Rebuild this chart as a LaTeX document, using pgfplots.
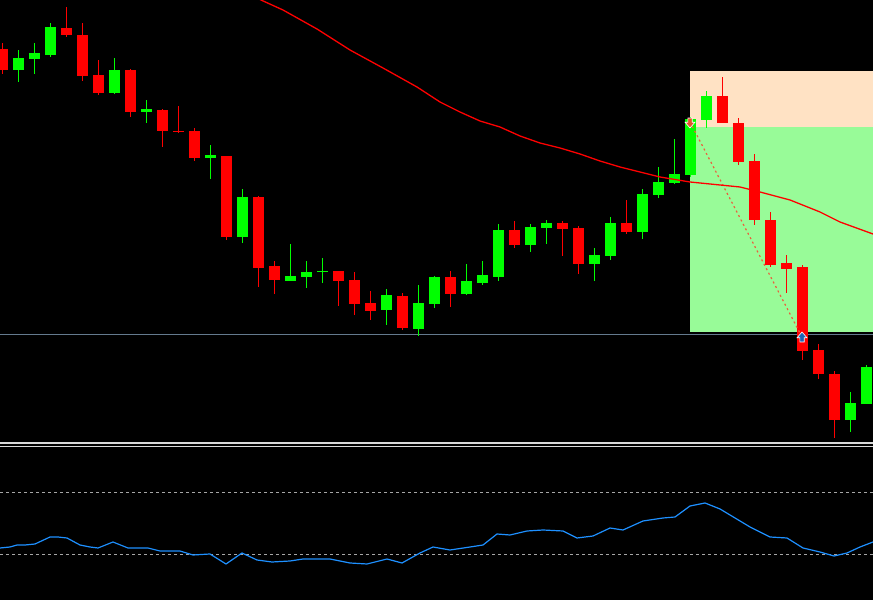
\documentclass[border=0pt]{standalone}
\usepackage{pgfplots}
\usepackage{pgfplotstable}
\pgfplotsset{compat=1.18}
\definecolor{cred}{RGB}{255,0,0}
\definecolor{cgreen}{RGB}{0,255,0}
\definecolor{peach}{RGB}{255,226,196}
\definecolor{pgreen}{RGB}{152,251,152}
\definecolor{slate}{RGB}{100,122,142}
\definecolor{osc}{RGB}{30,144,255}
\definecolor{arrowor}{RGB}{226,84,44}
\definecolor{arrowbl}{RGB}{30,100,180}
\definecolor{dashor}{RGB}{235,95,60}

\pgfdeclareplotmark{arrdown}{%
 \pgfpathmoveto{\pgfqpoint{-2.2pt}{5pt}}%
 \pgfpathlineto{\pgfqpoint{2.2pt}{5pt}}%
 \pgfpathlineto{\pgfqpoint{2.2pt}{0.8pt}}%
 \pgfpathlineto{\pgfqpoint{5pt}{0.8pt}}%
 \pgfpathlineto{\pgfqpoint{0pt}{-5pt}}%
 \pgfpathlineto{\pgfqpoint{-5pt}{0.8pt}}%
 \pgfpathlineto{\pgfqpoint{-2.2pt}{0.8pt}}%
 \pgfpathclose\pgfusepathqfillstroke}
\pgfdeclareplotmark{arrup}{%
 \pgfpathmoveto{\pgfqpoint{-2.2pt}{-5pt}}%
 \pgfpathlineto{\pgfqpoint{2.2pt}{-5pt}}%
 \pgfpathlineto{\pgfqpoint{2.2pt}{-0.8pt}}%
 \pgfpathlineto{\pgfqpoint{5pt}{-0.8pt}}%
 \pgfpathlineto{\pgfqpoint{0pt}{5pt}}%
 \pgfpathlineto{\pgfqpoint{-5pt}{-0.8pt}}%
 \pgfpathlineto{\pgfqpoint{-2.2pt}{-0.8pt}}%
 \pgfpathclose\pgfusepathqfillstroke}

% x = candle centre, bt/bb = body top/bottom, wt/wb = wick top/bottom (chart pixel rows)
\pgfplotstableread{
x bt bb wt wb
2.5 49 70 43 74
66.5 28 35 7 37
82.5 35 76 23 81
98.5 75 93 60 95
130.5 70 112 69 117
162.5 110 131 109 147
178.5 131 132 106 133
194.5 131 158 128 161
226.5 156 237 156 240
258.5 197 268 196 287
274.5 266 280 261 294
338.5 271 281 271 306
354.5 280 304 272 315
370.5 303 311 291 320
402.5 296 328 293 330
450.5 277 294 271 307
514.5 230 245 221 248
562.5 223 229 221 256
578.5 228 264 226 274
626.5 223 232 200 234
722.5 96 123 77 123
738.5 123 162 118 165
754.5 161 220 154 225
770.5 220 265 212 267
786.5 263 269 255 293
802.5 267 351 265 360
818.5 350 374 344 379
834.5 374 420 371 438
}\redc
\pgfplotstableread{
x bt bb wt wb
18.5 58 70 50 82
34.5 53 59 43 74
50.5 27 55 23 57
114.5 70 93 58 94
146.5 109 112 100 123
210.5 155 158 145 179
242.5 197 237 189 243
290.5 276 281 244 281
306.5 272 277 261 288
322.5 271 272 258 283
386.5 295 310 289 325
418.5 303 329 285 336
434.5 277 304 276 308
466.5 281 294 264 295
482.5 275 283 261 285
498.5 230 277 224 281
530.5 227 245 224 252
546.5 223 228 220 244
594.5 255 264 248 281
610.5 223 256 217 260
642.5 194 232 189 239
658.5 182 195 167 198
674.5 174 183 139 184
690.5 119 175 117 177
706.5 96 120 91 128
850.5 403 420 392 432
866.5 367 404 365 404
}\greenc

\begin{document}
\begin{tikzpicture}
\begin{axis}[
  scale only axis, width=873bp, height=600bp,
  xmin=0, xmax=873, ymin=0, ymax=600, y dir=reverse,
  axis lines=none, ticks=none,
]
% background
\addplot[fill=black, draw=none] coordinates {(-10,-10) (900,-10) (900,610) (-10,610)} -- cycle;
% zones
\addplot[fill=peach, draw=none] coordinates {(690,71) (900,71) (900,127) (690,127)} -- cycle;
\addplot[fill=pgreen, draw=none] coordinates {(690,127) (900,127) (900,332) (690,332)} -- cycle;
% level line
\addplot[slate, line width=1.4bp] coordinates {(0,334.5) (873,334.5)};
% wicks
\addplot[draw=none, mark=none, error bars/.cd, y dir=both, y explicit, error mark=none,
  error bar style={line width=1.3bp, cred}]
  table[x=x, y expr={(\thisrow{wt}+\thisrow{wb})/2}, y error expr={(\thisrow{wb}-\thisrow{wt})/2}] {\redc};
\addplot[draw=none, mark=none, error bars/.cd, y dir=both, y explicit, error mark=none,
  error bar style={line width=1.3bp, cgreen}]
  table[x=x, y expr={(\thisrow{wt}+\thisrow{wb})/2}, y error expr={(\thisrow{wb}-\thisrow{wt})/2}] {\greenc};
% bodies
\addplot[draw=none, mark=none, error bars/.cd, y dir=both, y explicit, error mark=none,
  error bar style={line width=11bp, cred}]
  table[x=x, y expr={(\thisrow{bt}+\thisrow{bb})/2}, y error expr={(\thisrow{bb}-\thisrow{bt})/2}] {\redc};
\addplot[draw=none, mark=none, error bars/.cd, y dir=both, y explicit, error mark=none,
  error bar style={line width=11bp, cgreen}]
  table[x=x, y expr={(\thisrow{bt}+\thisrow{bb})/2}, y error expr={(\thisrow{bb}-\thisrow{bt})/2}] {\greenc};
% trade line
\addplot[dashor, line width=1.2bp, dash pattern=on 2bp off 3bp] coordinates {(690,122) (802,337)};
% moving average
\addplot[cred, line width=1.3bp] coordinates {
(255,-3) (261,0) (283,10) (317,29) (350,50) (383,68) (417,87) (440,102) (460,112) (480,121) (500,127) (520,136) (540,143) (560,148) (580,154) (600,161) (620,167) (640,172) (660,177) (690,182) (720,185) (740,187) (760,192) (790,200) (820,212) (840,222) (873,234)};
% arrows
\addplot[only marks, mark=arrdown, mark options={fill=arrowor, draw=white, line width=0.6bp}] coordinates {(690,123)};
\addplot[only marks, mark=arrup, mark options={fill=arrowbl, draw=white, line width=0.6bp}] coordinates {(802,337)};
% separator
\addplot[white!85!black, line width=1.3bp] coordinates {(0,443) (873,443)};
\addplot[white!85!black, line width=1.3bp] coordinates {(0,446.5) (873,446.5)};
% oscillator levels
\addplot[white!65!black, line width=1bp, dash pattern=on 3bp off 3bp] coordinates {(0,493) (873,493)};
\addplot[white!65!black, line width=1bp, dash pattern=on 3bp off 3bp] coordinates {(0,555) (873,555)};
% oscillator
\addplot[osc, line width=1.2bp] coordinates {
(0,548) (10,547) (17,545) (25,545) (35,544) (50,537) (58,537) (67,538) (80,545) (90,547) (98,548) (113,542) (128,548) (148,548) (160,551) (180,551) (193,555) (210,554) (226,564) (242,553) (257,560) (272,562) (290,561) (303,559) (330,559) (350,563) (367,564) (387,559) (402,563) (420,553) (433,547) (450,550) (470,547) (483,545) (497,534) (510,535) (527,531) (543,530) (563,531) (577,538) (593,536) (610,528) (623,530) (643,521) (663,518) (675,517) (690,506) (705,503) (720,509) (750,527) (770,537) (787,538) (803,548) (820,552) (834,556) (847,553) (860,547) (873,542)};
\end{axis}
\end{tikzpicture}
\end{document}
